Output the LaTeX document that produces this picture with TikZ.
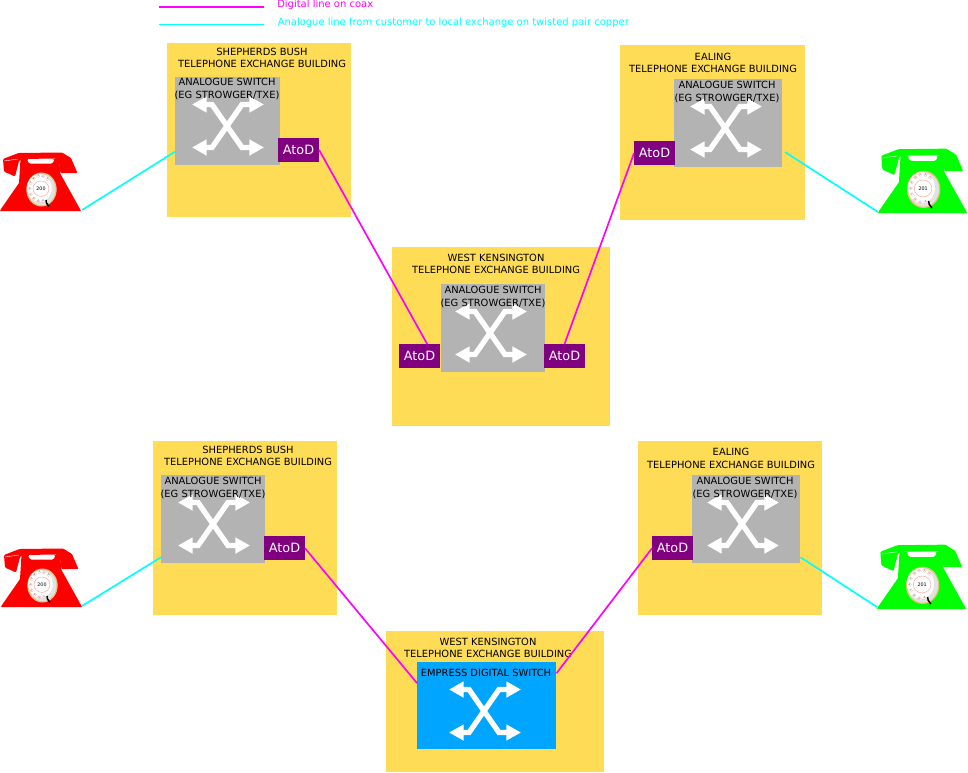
\documentclass[tikz,border=0pt]{standalone}
\usepackage{fontspec}
\setmainfont{DejaVu Sans}
\usetikzlibrary{arrows.meta}
\definecolor{bldgyellow}{HTML}{FFDC55}
\definecolor{swgrey}{HTML}{B3B3B3}
\definecolor{atodpurple}{HTML}{800080}
\definecolor{digiblue}{HTML}{00A5FF}
\definecolor{dialtan}{HTML}{E3C37A}
\definecolor{dialgrey}{HTML}{E2E2E2}
\definecolor{dialpink}{HTML}{F5A9A0}
\definecolor{coaxline}{HTML}{FF00FF}
\definecolor{copperline}{HTML}{00FFFF}
\definecolor{phonered}{HTML}{FF0000}
\definecolor{phonegreen}{HTML}{00FF00}
\tikzset{
    size/.style 2 args={minimum width=#1*0.75pt, minimum height=#2*0.75pt},
    bldg/.style={fill=bldgyellow, anchor=north west, inner sep=0pt},
    swbox/.style={fill=swgrey, anchor=north west, inner sep=0pt},
    digibox/.style={fill=digiblue, anchor=north west, inner sep=0pt},
    atod/.style={fill=atodpurple, text=white, anchor=north west, inner sep=0pt, size={40.5}{24}, font=\fontsize{9.6pt}{11pt}\selectfont},
    bldgtext/.style={align=center, inner sep=0pt, font=\fontsize{7.42pt}{9.3pt}\selectfont},
    coax/.style={coaxline, line width=1.25pt},
    copper/.style={copperline, line width=1.25pt},
    keytext/.style={anchor=west, inner sep=0pt, font=\fontsize{7.48pt}{9pt}\selectfont},
    crossarm/.style={draw=white, line width=4pt, {Triangle[length=11pt,width=11.5pt]}-{Triangle[length=11pt,width=11.5pt]}},
    pics/crossing/.style={code={
        \draw[crossarm] (-36,-21.5) -- (-16,-21.5) -- (14,21.5) -- (36,21.5);
        \draw[crossarm] (-36,21.5) -- (-16,21.5) -- (14,-21.5) -- (36,-21.5);
    }},
    pics/telephone/.style 2 args={code={
        \fill[#1] (0,0) -- (1,-2) -- (19,-28) -- (20.5,-52) -- (59,-52) -- (60.5,-37) -- (80,-2) -- (81,0) -- cycle;
        \fill[#1, rounded corners=0.8pt] (3,-52) -- (18.5,-58) -- (62,-58.5) -- (71,-53) -- (77.5,-38) -- (60.5,-38) -- (59,-49) -- (56,-52.5)
            -- (21,-52) -- (19,-50) -- (15,-34.5) -- (4,-39.5) -- cycle;
        \fill[white, rounded corners=1pt] (27,-52) -- (54.5,-52) -- (52.5,-47.5) -- (29,-47.5) -- cycle;
        \draw[white, line width=0.3pt] (4,-50) -- (18,-52);
        \draw[dialtan, fill=dialgrey, line width=0.9pt] (41.5,-21.5) ellipse (14.6 and 16.4);
        \fill[white] (39.5,-23) ellipse (12.3 and 14);
        \foreach \digit [count=\i] in {1,2,3,4,5,6,7,8,9,0} {
            \pgfmathsetmacro{\holex}{40.5+10.8*cos(24+\i*26)}
            \pgfmathsetmacro{\holey}{-22.3-12.8*sin(24+\i*26)}
            \draw[dialpink, fill=white, line width=0.15pt] (\holex,\holey) circle (1.6);
            \node[inner sep=0pt, text=darkgray, font=\fontsize{1.6pt}{2pt}\selectfont] (-hole\i) at (\holex,\holey) {\digit};
        }
        \draw[dialpink, fill=white, line width=0.35pt] (41,-22.3) ellipse (8 and 7.7);
        \node[inner sep=0pt, font=\fontsize{3.6pt}{4pt}\selectfont] (-num) at (41,-22.3) {#2};
        \draw[black, line width=1.1pt] (46,-11) -- (46.5,-8) -- (49,-4.5);
    }},
}
\begin{document}
\begin{tikzpicture}[x=0.75pt, y=-0.75pt]
    \useasboundingbox (0,0) rectangle (968,772);

    % key
    \coordinate (keyA) at (159,7);
    \coordinate (keyB) at (264,7);
    \coordinate (keyC) at (159,24.5);
    \coordinate (keyD) at (264,24.5);
    \draw[coax] (keyA) -- (keyB);
    \draw[copper] (keyC) -- (keyD);
    \node[keytext, text=coaxline] (coaxtext) at (277,4.5) {Digital line on coax};
    \node[keytext, text=copperline] (coppertext) at (277.5,22.5) {Analogue line from customer to local exchange on twisted pair copper};

    % upper network
    \node[bldg, size={184}{174}] (bush) at (167,43) {};
    \node[bldg, size={185}{175}] (ealing) at (620,45) {};
    \node[bldg, size={218}{179}] (kens) at (392,247) {};
    \node[swbox, size={105}{88}] (bushsw) at (175,77) {};
    \node[swbox, size={108}{88}] (ealingsw) at (674,79) {};
    \node[swbox, size={104}{88}] (kenssw) at (441,284) {};
    \pic at (228,126) {crossing};
    \pic at (726,128) {crossing};
    \pic at (491,333) {crossing};
    \node[bldgtext] (bushtext) at (262,58) {SHEPHERDS BUSH\\TELEPHONE EXCHANGE BUILDING};
    \node[bldgtext] (ealingtext) at (713,63) {EALING\\TELEPHONE EXCHANGE BUILDING};
    \node[bldgtext] (kenstext) at (496,264) {WEST KENSINGTON\\TELEPHONE EXCHANGE BUILDING};
    \node[bldgtext] (bushswtext) at (227,89) {ANALOGUE SWITCH\\(EG STROWGER/TXE)};
    \node[bldgtext] (ealingswtext) at (727,92) {ANALOGUE SWITCH\\(EG STROWGER/TXE)};
    \node[bldgtext] (kensswtext) at (493,297) {ANALOGUE SWITCH\\(EG STROWGER/TXE)};
    \node[atod] (bushad) at (278,137.5) {AtoD};
    \node[atod] (ealingad) at (634,141) {AtoD};
    \node[atod] (kensadl) at (399,344) {AtoD};
    \node[atod] (kensadr) at (544,344) {AtoD};
    \pic (redA) at (0,211) {telephone={phonered}{200}};
    \pic[scale=1.1] (greenA) at (878,213) {telephone={phonegreen}{201}};
    \coordinate (redAjack) at (82,210);
    \coordinate (greenAjack) at (878,212);
    \coordinate (ealingswend) at (785,152);
    \draw[copper] (redAjack) -- (bushsw.210.6);
    \draw[copper] (ealingswend) -- (greenAjack);
    \draw[coax] (bushad.east) -- (kensadl.58);
    \draw[coax] (ealingad.west) -- (kensadr.north);

    % lower network
    \node[bldg, size={184}{174}] (bushb) at (153,441) {};
    \node[bldg, size={184}{174}] (ealingb) at (638,441) {};
    \node[bldg, size={218}{141}] (kensb) at (386,631) {};
    \node[swbox, size={104}{88}] (bushbsw) at (161,475) {};
    \node[swbox, size={108}{88}] (ealingbsw) at (692,475) {};
    \node[digibox, size={139}{87}] (digisw) at (417,662) {};
    \pic at (214,524) {crossing};
    \pic at (743,524) {crossing};
    \pic at (485,711) {crossing};
    \node[bldgtext] (bushbtext) at (248,456) {SHEPHERDS BUSH\\TELEPHONE EXCHANGE BUILDING};
    \node[bldgtext] (ealingbtext) at (731,458.5) {EALING\\TELEPHONE EXCHANGE BUILDING};
    \node[bldgtext] (kensbtext) at (488,648) {WEST KENSINGTON\\TELEPHONE EXCHANGE BUILDING};
    \node[bldgtext] (bushbswtext) at (213,488) {ANALOGUE SWITCH\\(EG STROWGER/TXE)};
    \node[bldgtext] (ealingbswtext) at (745,488) {ANALOGUE SWITCH\\(EG STROWGER/TXE)};
    \node[bldgtext] (digitext) at (486,672.5) {EMPRESS DIGITAL SWITCH};
    \node[atod] (bushbad) at (264,536) {AtoD};
    \node[atod] (ealingbad) at (652,536) {AtoD};
    \pic (redB) at (1,607) {telephone={phonered}{200}};
    \pic[scale=1.1] (greenB) at (877,609) {telephone={phonegreen}{201}};
    \coordinate (redBjack) at (82,606);
    \coordinate (greenBjack) at (877,607);
    \draw[copper] (redBjack) -- (bushbsw.216.9);
    \draw[copper] (ealingbsw.-35.8) -- (greenBjack);
    \draw[coax] (bushbad.east) -- (digisw.162.8);
    \draw[coax] (ealingbad.west) -- (digisw.25);
\end{tikzpicture}
\end{document}
